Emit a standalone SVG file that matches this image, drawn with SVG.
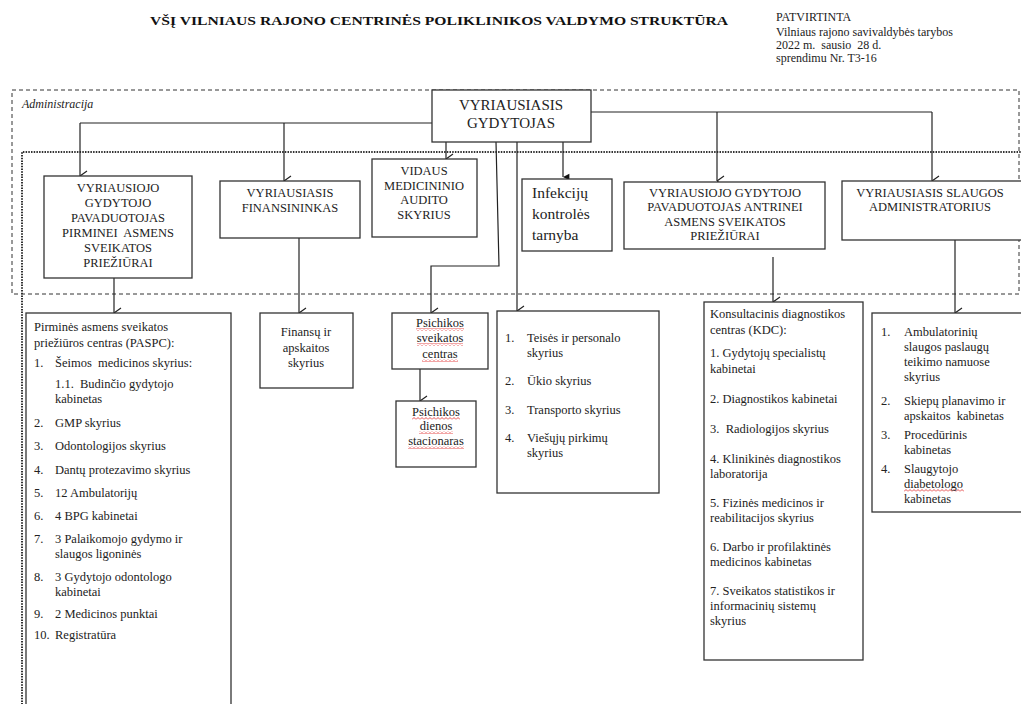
<svg xmlns="http://www.w3.org/2000/svg" width="1021" height="704" viewBox="0 0 1021 704">
<style>
.bg{fill:#fff}
text{font-family:"Liberation Serif","Times New Roman","DejaVu Serif",serif;white-space:pre}
.box{fill:#fff;stroke:#333;stroke-width:1.3}
.hd{font-size:12.5px;fill:#222;text-anchor:middle}
.big{font-size:15px;fill:#222;text-anchor:middle}
.tx{font-size:12.5px;fill:#222}
.hr{font-size:12px;fill:#222}
.inf{font-size:15.5px;fill:#222}
.ttl{font-size:13px;font-weight:bold;fill:#111}
.it{font-size:12px;font-style:italic;fill:#222}
.ln{fill:none;stroke:#222;stroke-width:1.2}
.arr{marker-end:url(#open)}
.wv{fill:url(#wavy)}
</style>
<defs>
<marker id="open" viewBox="0 0 12 10" refX="6" refY="10" markerWidth="12" markerHeight="10" markerUnits="userSpaceOnUse" orient="auto-start-reverse">
<path d="M1,3 L6,10 L11,3" fill="none" stroke="#222" stroke-width="1.2"/>
</marker>
<marker id="filled" viewBox="0 0 10 10" refX="5" refY="10" markerWidth="8" markerHeight="8" markerUnits="userSpaceOnUse" orient="auto-start-reverse">
<path d="M1,2 L5,10 L9,2 Z" fill="#111"/>
</marker>
<pattern id="wavy" width="4" height="3" patternUnits="userSpaceOnUse">
<path d="M0,2.5 L2,0.5 L4,2.5" fill="none" stroke="#e02020" stroke-width="0.8"/>
</pattern>
</defs>
<rect class="bg" x="0" y="0" width="1021" height="704"/>

<g id="header">
<text class="ttl" x="150" y="25" textLength="578" lengthAdjust="spacingAndGlyphs">VŠĮ VILNIAUS RAJONO CENTRINĖS POLIKLINIKOS VALDYMO STRUKTŪRA</text>
<text class="hr" x="776" y="21">PATVIRTINTA</text>
<text class="hr" x="776" y="36">Vilniaus rajono savivaldybės tarybos</text>
<text class="hr" x="776" y="49">2022 m.  sausio  28 d.</text>
<text class="hr" x="776" y="62">sprendimu Nr. T3-16</text>
</g>

<g id="regions">
<rect x="12" y="90" width="1007" height="204" fill="none" stroke="#333" stroke-width="1" stroke-dasharray="4,3"/>
<text class="it" x="22" y="108">Administracija</text>
<path d="M22,710 V152 H1025" fill="none" stroke="#333" stroke-width="2" stroke-dasharray="1.5,1.2"/>
</g>

<g id="connectors">
<path class="ln" d="M432,123 H80"/>
<path class="ln arr" d="M80,123 V176"/>
<path class="ln arr" d="M284,123 V181"/>
<path class="ln" d="M591,112 H932"/>
<path class="ln arr" d="M932,112 V181"/>
<path class="ln arr" d="M717,112 V181"/>
<path class="ln arr" d="M446,142 V159"/>
<path class="ln" d="M563,142 V177" marker-end="url(#filled)"/>
<path class="ln arr" d="M496,142 L499,266 H431 V313"/>
<path class="ln arr" d="M517,142 V311"/>
<path class="ln arr" d="M114,278 V313"/>
<path class="ln arr" d="M299,238 V313"/>
<path class="ln arr" d="M773,257 V302"/>
<path class="ln arr" d="M955,240 V313"/>
<path class="ln arr" d="M420,369 V401"/>
</g>

<g id="n-gydytojas">
<rect class="box" x="432" y="90" width="159" height="52"/>
<text class="big" x="511" y="110">VYRIAUSIASIS</text>
<text class="big" x="511" y="128">GYDYTOJAS</text>
</g>

<g id="n-pirminei">
<rect class="box" x="44" y="176" width="148" height="102"/>
<text class="hd" x="118" y="192">VYRIAUSIOJO</text>
<text class="hd" x="118" y="207">GYDYTOJO</text>
<text class="hd" x="118" y="222">PAVADUOTOJAS</text>
<text class="hd" x="118" y="237">PIRMINEI  ASMENS</text>
<text class="hd" x="118" y="252">SVEIKATOS</text>
<text class="hd" x="118" y="267">PRIEŽIŪRAI</text>
</g>

<g id="n-finansininkas">
<rect class="box" x="220" y="181" width="140" height="57"/>
<text class="hd" x="290" y="197">VYRIAUSIASIS</text>
<text class="hd" x="290" y="212">FINANSININKAS</text>
</g>

<g id="n-vidaus">
<rect class="box" x="372" y="159" width="105" height="78"/>
<text class="hd" x="424" y="175">VIDAUS</text>
<text class="hd" x="424" y="190">MEDICININIO</text>
<text class="hd" x="424" y="204">AUDITO</text>
<text class="hd" x="424" y="219">SKYRIUS</text>
</g>

<g id="n-infekciju">
<rect class="box" x="522" y="179" width="90" height="72"/>
<text class="inf" x="532" y="198">Infekcijų</text>
<text class="inf" x="532" y="219">kontrolės</text>
<text class="inf" x="532" y="240">tarnyba</text>
</g>

<g id="n-antrinei">
<rect class="box" x="624" y="182" width="201" height="67"/>
<text class="hd" x="725" y="197">VYRIAUSIOJO GYDYTOJO</text>
<text class="hd" x="725" y="211">PAVADUOTOJAS ANTRINEI</text>
<text class="hd" x="725" y="226">ASMENS SVEIKATOS</text>
<text class="hd" x="725" y="240">PRIEŽIŪRAI</text>
</g>

<g id="n-slaugos">
<rect class="box" x="842" y="181" width="185" height="59"/>
<text class="hd" x="930" y="197">VYRIAUSIASIS SLAUGOS</text>
<text class="hd" x="930" y="211">ADMINISTRATORIUS</text>
</g>

<g id="n-paspc">
<rect class="box" x="26" y="313" width="205" height="400"/>
<text class="tx" x="34" y="331">Pirminės asmens sveikatos</text>
<text class="tx" x="34" y="347">priežiūros centras (PASPC):</text>
<text class="tx" x="34" y="367">1.</text><text class="tx" x="55" y="367">Šeimos  medicinos skyrius:</text>
<text class="tx" x="55" y="388">1.1.  Budinčio gydytojo</text>
<text class="tx" x="55" y="403">kabinetas</text>
<text class="tx" x="34" y="427">2.</text><text class="tx" x="55" y="427">GMP skyrius</text>
<text class="tx" x="34" y="450">3.</text><text class="tx" x="55" y="450">Odontologijos skyrius</text>
<text class="tx" x="34" y="474">4.</text><text class="tx" x="55" y="474">Dantų protezavimo skyrius</text>
<text class="tx" x="34" y="497">5.</text><text class="tx" x="55" y="497">12 Ambulatorijų</text>
<text class="tx" x="34" y="520">6.</text><text class="tx" x="55" y="520">4 BPG kabinetai</text>
<text class="tx" x="34" y="543">7.</text><text class="tx" x="55" y="543">3 Palaikomojo gydymo ir</text>
<text class="tx" x="55" y="558">slaugos ligoninės</text>
<text class="tx" x="34" y="581">8.</text><text class="tx" x="55" y="581">3 Gydytojo odontologo</text>
<text class="tx" x="55" y="596">kabinetai</text>
<text class="tx" x="34" y="618">9.</text><text class="tx" x="55" y="618">2 Medicinos punktai</text>
<text class="tx" x="34" y="639">10.</text><text class="tx" x="55" y="639">Registratūra</text>
</g>

<g id="n-finansu">
<rect class="box" x="260" y="313" width="93" height="75"/>
<text class="hd" x="306" y="336">Finansų ir</text>
<text class="hd" x="306" y="352">apskaitos</text>
<text class="hd" x="306" y="367">skyrius</text>
</g>

<g id="n-psichikos-centras">
<rect class="box" x="392" y="313" width="96" height="56"/>
<rect class="wv" x="416" y="328" width="48" height="3"/>
<rect class="wv" x="417" y="343" width="46" height="3"/>
<rect class="wv" x="422" y="359" width="36" height="3"/>
<text class="hd" x="440" y="327">Psichikos</text>
<text class="hd" x="440" y="342">sveikatos</text>
<text class="hd" x="440" y="358">centras</text>
</g>

<g id="n-psichikos-stacionaras">
<rect class="box" x="396" y="401" width="80" height="66"/>
<rect class="wv" x="412" y="417" width="48" height="3"/>
<rect class="wv" x="419" y="431" width="34" height="3"/>
<rect class="wv" x="408" y="446" width="56" height="3"/>
<text class="hd" x="436" y="416">Psichikos</text>
<text class="hd" x="436" y="430">dienos</text>
<text class="hd" x="436" y="445">stacionaras</text>
</g>

<g id="n-ukio">
<rect class="box" x="497" y="311" width="162" height="182"/>
<text class="tx" x="505" y="342">1.</text><text class="tx" x="527" y="342">Teisės ir personalo</text>
<text class="tx" x="527" y="357">skyrius</text>
<text class="tx" x="505" y="385">2.</text><text class="tx" x="527" y="385">Ūkio skyrius</text>
<text class="tx" x="505" y="414">3.</text><text class="tx" x="527" y="414">Transporto skyrius</text>
<text class="tx" x="505" y="442">4.</text><text class="tx" x="527" y="442">Viešųjų pirkimų</text>
<text class="tx" x="527" y="457">skyrius</text>
</g>

<g id="n-kdc">
<rect class="box" x="704" y="302" width="159" height="358"/>
<text class="tx" x="710" y="318">Konsultacinis diagnostikos</text>
<text class="tx" x="710" y="334">centras (KDC):</text>
<text class="tx" x="710" y="357">1. Gydytojų specialistų</text>
<text class="tx" x="710" y="373">kabinetai</text>
<text class="tx" x="710" y="403">2. Diagnostikos kabinetai</text>
<text class="tx" x="710" y="433">3.  Radiologijos skyrius</text>
<text class="tx" x="710" y="463">4. Klinikinės diagnostikos</text>
<text class="tx" x="710" y="478">laboratorija</text>
<text class="tx" x="710" y="507">5. Fizinės medicinos ir</text>
<text class="tx" x="710" y="522">reabilitacijos skyrius</text>
<text class="tx" x="710" y="551">6. Darbo ir profilaktinės</text>
<text class="tx" x="710" y="566">medicinos kabinetas</text>
<text class="tx" x="710" y="595">7. Sveikatos statistikos ir</text>
<text class="tx" x="710" y="610">informacinių sistemų</text>
<text class="tx" x="710" y="625">skyrius</text>
</g>

<g id="n-slaugos-list">
<rect class="box" x="872" y="313" width="155" height="199"/>
<rect class="wv" x="904" y="489" width="60" height="3"/>
<text class="tx" x="881" y="336">1.</text><text class="tx" x="904" y="336">Ambulatorinių</text>
<text class="tx" x="904" y="351">slaugos paslaugų</text>
<text class="tx" x="904" y="366">teikimo namuose</text>
<text class="tx" x="904" y="381">skyrius</text>
<text class="tx" x="881" y="405">2.</text><text class="tx" x="904" y="405">Skiepų planavimo ir</text>
<text class="tx" x="904" y="420">apskaitos  kabinetas</text>
<text class="tx" x="881" y="439">3.</text><text class="tx" x="904" y="439">Procedūrinis</text>
<text class="tx" x="904" y="454">kabinetas</text>
<text class="tx" x="881" y="473">4.</text><text class="tx" x="904" y="473">Slaugytojo</text>
<text class="tx" x="904" y="488">diabetologo</text>
<text class="tx" x="904" y="503">kabinetas</text>
</g>
</svg>
